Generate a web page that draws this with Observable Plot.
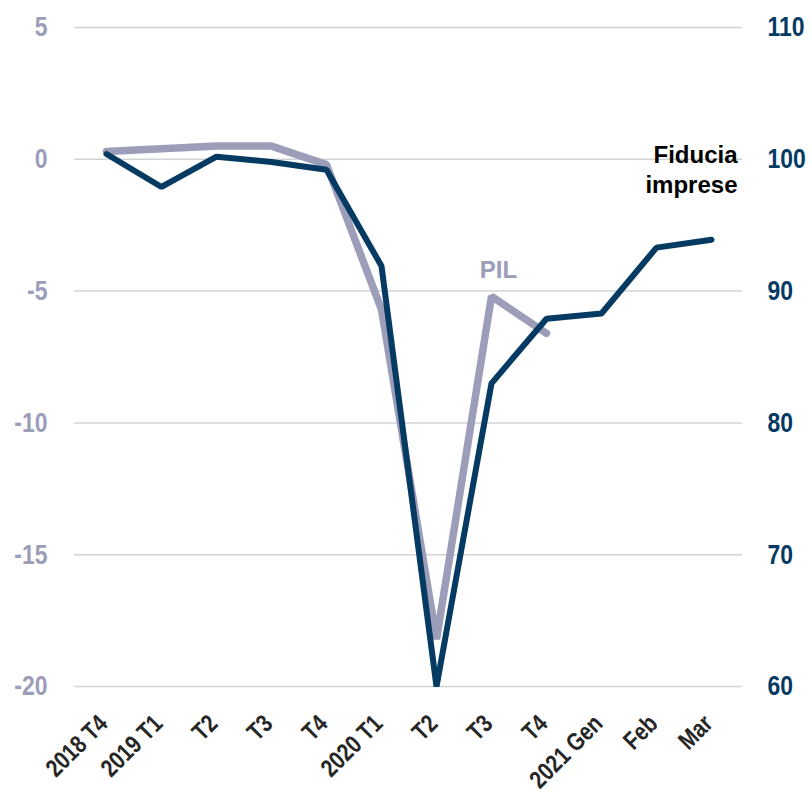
<!DOCTYPE html>
<html><head><meta charset="utf-8">
<script src="https://cdn.jsdelivr.net/npm/d3@7"></script>
<script src="https://cdn.jsdelivr.net/npm/@observablehq/plot@0.6"></script>
<style>body{margin:0;background:#fff}</style>
</head><body><div id="chart"></div>
<script>
const periods = ["2018 T4","2019 T1","2019 T2","2019 T3","2019 T4","2020 T1","2020 T2","2020 T3","2020 T4","2021 Gen","2021 Feb","2021 Mar"];
const tickLabels = ["2018 T4","2019 T1","T2","T3","T4","2020 T1","T2","T3","T4","2021 Gen","Feb","Mar"];
const pil = [0.3, 0.4, 0.5, 0.5, -0.2, -5.7, -18.2, -5.2, -6.6];
const fiducia = [100.4, 97.9, 100.2, 99.8, 99.2, 91.9, 60.0, 83.0, 87.9, 88.3, 93.3, 93.9];
const leftTicks = [-20, -15, -10, -5, 0, 5];
const rightTicks = [60, 70, 80, 90, 100, 110];
const seriesLabels = [
  {text: "PIL", x: "2020 T3", y: -4.2},
  {text: "Fiducia\nimprese", x: "2021 Mar", y: -0.34}
];

const toLeft = v => (v - 100) / 2;
const pilData = pil.map((v, i) => ({x: periods[i], y: v}));
const fidData = fiducia.map((v, i) => ({x: periods[i], y: toLeft(v)}));

const FONT = "'Liberation Sans', Arial, sans-serif";
const NAVY = "#053a63";
const GRAY = "#9c9db8";

const chart = Plot.plot({
  width: 812, height: 797,
  marginLeft: 74, marginRight: 70, marginTop: 27, marginBottom: 111,
  style: {fontFamily: FONT, background: "white"},
  x: {type: "point", domain: periods, padding: 0.5},
  y: {domain: [-20, 5]},
  marks: [
    Plot.gridY(leftTicks, {stroke: "#d2d3d7", strokeOpacity: 1, strokeWidth: 1.5}),
    Plot.axisY(leftTicks, {anchor: "left", tickSize: 0, tickPadding: 27, fill: GRAY, fontSize: 28, fontWeight: "bold", label: null, tickFormat: d => String(d), className: "narrow"}),
    Plot.axisY(rightTicks.map(toLeft), {anchor: "right", tickSize: 0, tickPadding: 25, fill: NAVY, fontSize: 28, fontWeight: "bold", label: null, tickFormat: d => String(100 + 2 * d), className: "narrow"}),
    Plot.axisX({tickRotate: -45, tickSize: 0, tickPadding: 20, dx: -3, dy: 13, fill: "#262626", fontSize: 25, fontWeight: "bold", label: null, tickFormat: d => tickLabels[periods.indexOf(d)], className: "narrow"}),
    Plot.line(pilData, {x: "x", y: "y", stroke: GRAY, strokeWidth: 7.5, strokeLinecap: "round", strokeLinejoin: "miter"}),
    Plot.line(fidData, {x: "x", y: "y", stroke: NAVY, strokeWidth: 6, strokeLinecap: "round", strokeLinejoin: "miter"}),
    Plot.text(seriesLabels.slice(0, 1), {x: "x", y: "y", text: "text", dx: 7, fill: GRAY, fontSize: 24, fontWeight: "bold"}),
    Plot.text(seriesLabels.slice(1), {x: "x", y: "y", text: "text", dx: 26, textAnchor: "end", fill: "#000", fontSize: 24, fontWeight: "bold", lineHeight: 1.25})
  ]
});
// emulate a condensed (Arial Narrow-like) face for the axis labels
d3.select(chart).selectAll(".narrow text").each(function() {
  const t = this.getAttribute("transform") || "";
  this.setAttribute("transform", (t + " scale(0.82,1)").trim());
});
document.getElementById("chart").appendChild(chart);
</script>
</body></html>
